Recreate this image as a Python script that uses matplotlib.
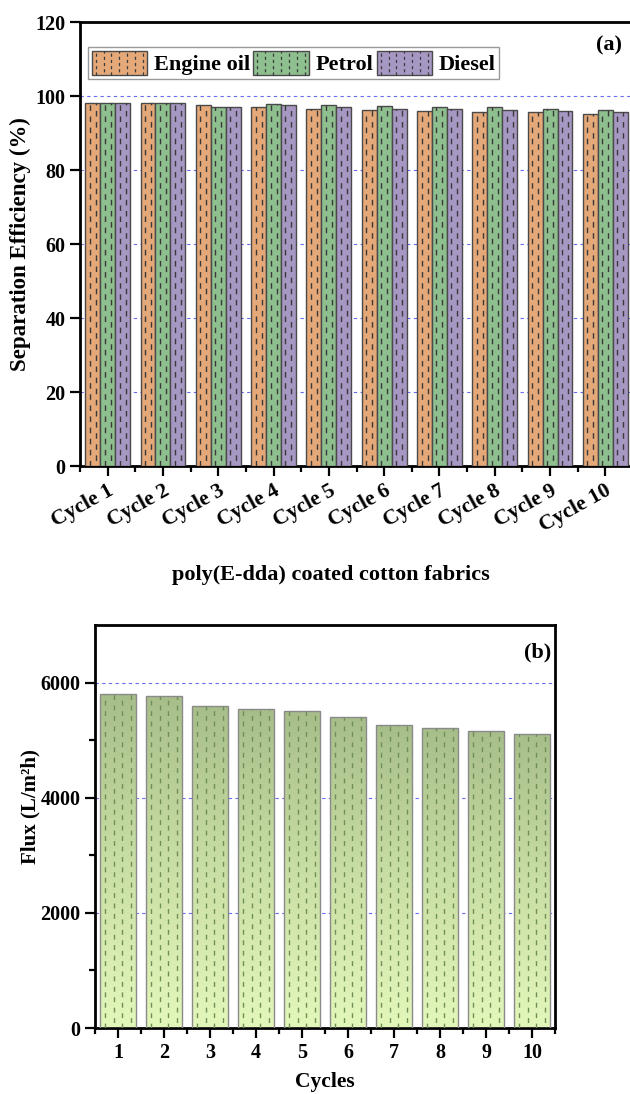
import numpy as np
import matplotlib
matplotlib.use("Agg")
import matplotlib.pyplot as plt
from matplotlib.patches import Rectangle
from matplotlib.lines import Line2D
from matplotlib.colors import LinearSegmentedColormap
from matplotlib.legend_handler import HandlerPatch
from matplotlib.transforms import ScaledTranslation

plt.rcParams['font.family'] = ['Liberation Serif', 'DejaVu Serif']
plt.rcParams['font.weight'] = 'bold'
plt.rcParams['axes.labelweight'] = 'bold'

# ---- data ----
cycles = ["Cycle 1", "Cycle 2", "Cycle 3", "Cycle 4", "Cycle 5",
          "Cycle 6", "Cycle 7", "Cycle 8", "Cycle 9", "Cycle 10"]
engine_oil = [98.0, 98.0, 97.6, 97.0, 96.6, 96.1, 95.9, 95.6, 95.6, 95.1]
petrol = [98.0, 98.0, 97.0, 97.8, 97.6, 97.3, 97.0, 96.9, 96.6, 96.1]
diesel = [98.0, 98.0, 97.0, 97.6, 97.0, 96.6, 96.6, 96.2, 95.9, 95.6]
series_names = ["Engine oil", "Petrol", "Diesel"]
series_colors = ["#E5A878", "#8EBF8E", "#A797C3"]

flux_cycles = [1, 2, 3, 4, 5, 6, 7, 8, 9, 10]
flux = [5800, 5770, 5600, 5540, 5500, 5400, 5260, 5210, 5160, 5100]

W, H = 630, 1094
fig = plt.figure(figsize=(W / 100, H / 100), dpi=100)


def px_axes(left, top, right, bottom):
    return fig.add_axes([left / W, 1 - bottom / H, (right - left) / W, (bottom - top) / H])


def dash_fill(ax, bar, fracs, color, dash=(3.5, 3.5), lw=1.0):
    x0 = bar.get_x()
    w = bar.get_width()
    h = bar.get_height()
    for i, f in enumerate(fracs):
        off = 0 if i % 2 == 0 else dash[0]
        ln = Line2D([x0 + f * w, x0 + f * w], [0, h], color=color, lw=lw,
                    linestyle=(off, dash), zorder=bar.get_zorder() + 0.1)
        ln.set_clip_path(bar)
        ax.add_line(ln)


class DashHandler(HandlerPatch):
    def __init__(self, dcolor, **kw):
        super().__init__(**kw)
        self.dcolor = dcolor

    def create_artists(self, legend, orig_handle, xdescent, ydescent,
                       width, height, fontsize, trans):
        r = Rectangle((-xdescent, -ydescent), width, height,
                      facecolor=orig_handle.get_facecolor(),
                      edgecolor=orig_handle.get_edgecolor(), lw=1.0, transform=trans)
        arts = [r]
        n = 7
        for i in range(n):
            x = -xdescent + width * (i + 0.5) / n
            off = 0 if i % 2 == 0 else 2.5
            ln = Line2D([x, x], [-ydescent, -ydescent + height], color=self.dcolor,
                        lw=0.9, linestyle=(off, (2.5, 2.5)), transform=trans)
            arts.append(ln)
        return arts


TICK_FS = 14.5

# ---- panel (a) ----
ax1 = px_axes(80, 22, 633, 466)
x = np.arange(1, len(cycles) + 1)
bw = 0.27
handles = []
for k, (vals, col) in enumerate(zip([engine_oil, petrol, diesel], series_colors)):
    bars = ax1.bar(x + (k - 1) * bw, vals, bw, color=col, edgecolor="#4a4a4a",
                   linewidth=1.0, zorder=3)
    for b in bars:
        dash_fill(ax1, b, [0.3, 0.7], "#3a3a3a", dash=(4, 4), lw=1.0)
    handles.append(bars[0])

ax1.set_xlim(0.5, 10.5)
ax1.set_ylim(0, 120)
ax1.set_yticks([0, 20, 40, 60, 80, 100, 120])
ax1.set_xticks(x)
ax1.set_xticks(np.arange(0.5, 11, 1), minor=True)
ax1.set_xticklabels(cycles, rotation=29, ha="right", rotation_mode="anchor",
                    fontsize=15.5, fontweight="bold")
shift = ScaledTranslation(10 / 100, -10 / 100, fig.dpi_scale_trans)
for lab in ax1.get_xticklabels():
    lab.set_transform(lab.get_transform() + shift)
for lab in ax1.get_yticklabels():
    lab.set_fontsize(TICK_FS)
    lab.set_fontweight("bold")
ax1.grid(axis="y", color="#6a6aee", linestyle=(0, (3, 3)), linewidth=0.8, zorder=0)
ax1.set_axisbelow(True)
ax1.tick_params(axis="both", which="major", direction="out", length=7, width=1.6)
ax1.tick_params(axis="x", which="minor", direction="out", length=4, width=1.6)
for s in ax1.spines.values():
    s.set_linewidth(2.0)
ax1.set_ylabel("Separation Efficiency (%)", fontsize=16.5, fontweight="bold")
ax1.yaxis.set_label_coords(-0.088, 0.5)
ax1.text(0.98, 0.948, "(a)", transform=ax1.transAxes, ha="right", va="center",
         fontsize=16, fontweight="bold")
hmap = {h: DashHandler("#3a3a3a") for h in handles}
leg = ax1.legend(handles, series_names, loc="upper left", ncol=3,
                 bbox_to_anchor=(0.015, 0.943), fancybox=False, edgecolor="#999999",
                 framealpha=1, prop={"size": 16, "weight": "bold"},
                 handlelength=2.5, handleheight=1.3, handletextpad=0.3,
                 columnspacing=0.15, borderpad=0.15, borderaxespad=0.0,
                 handler_map=hmap)
leg.get_frame().set_linewidth(1.0)

fig.text(331 / W, 1 - 575 / H, "poly(E-dda) coated cotton fabrics", ha="center",
         va="center", fontsize=16, fontweight="bold")

# ---- panel (b) ----
ax2 = px_axes(95, 625, 555, 1028)
cmap = LinearSegmentedColormap.from_list("grn", ["#e4f7bb", "#c9dea4", "#a8be8a"])
grad = np.linspace(0, 1, 256).reshape(-1, 1)
bars2 = ax2.bar(flux_cycles, flux, 0.8, color="none", edgecolor="#8a8a8a",
                linewidth=1.0, zorder=3)
for b in bars2:
    x0, w, h = b.get_x(), b.get_width(), b.get_height()
    im = ax2.imshow(grad, extent=[x0, x0 + w, 0, h], origin="lower", aspect="auto",
                    cmap=cmap, zorder=2)
    im.set_clip_path(b)
    dash_fill(ax2, b, [0.14, 0.38, 0.62, 0.86], "#6f8f58", dash=(3.5, 4), lw=1.0)

ax2.set_xlim(0.5, 10.5)
ax2.set_ylim(0, 7000)
ax2.set_xticks(flux_cycles)
ax2.set_xticks(np.arange(0.5, 11, 1), minor=True)
ax2.set_yticks([0, 2000, 4000, 6000])
ax2.set_yticks([1000, 3000, 5000], minor=True)
for lab in ax2.get_xticklabels() + ax2.get_yticklabels():
    lab.set_fontsize(TICK_FS)
    lab.set_fontweight("bold")
ax2.grid(axis="y", which="major", color="#6a6aee", linestyle=(0, (3, 3)),
         linewidth=0.8, zorder=0)
ax2.set_axisbelow(True)
ax2.tick_params(axis="both", which="major", direction="out", length=7, width=1.6)
ax2.tick_params(axis="both", which="minor", direction="out", length=4, width=1.6)
for s in ax2.spines.values():
    s.set_linewidth(2.0)
ax2.set_ylabel("Flux (L/m²h)", fontsize=15, fontweight="bold")
ax2.yaxis.set_label_coords(-0.118, 0.55)
ax2.set_xlabel("Cycles", fontsize=15.5, fontweight="bold", labelpad=7)
ax2.text(0.991, 0.933, "(b)", transform=ax2.transAxes, ha="right", va="center",
         fontsize=16, fontweight="bold")

fig.savefig("out.png", dpi=100)
